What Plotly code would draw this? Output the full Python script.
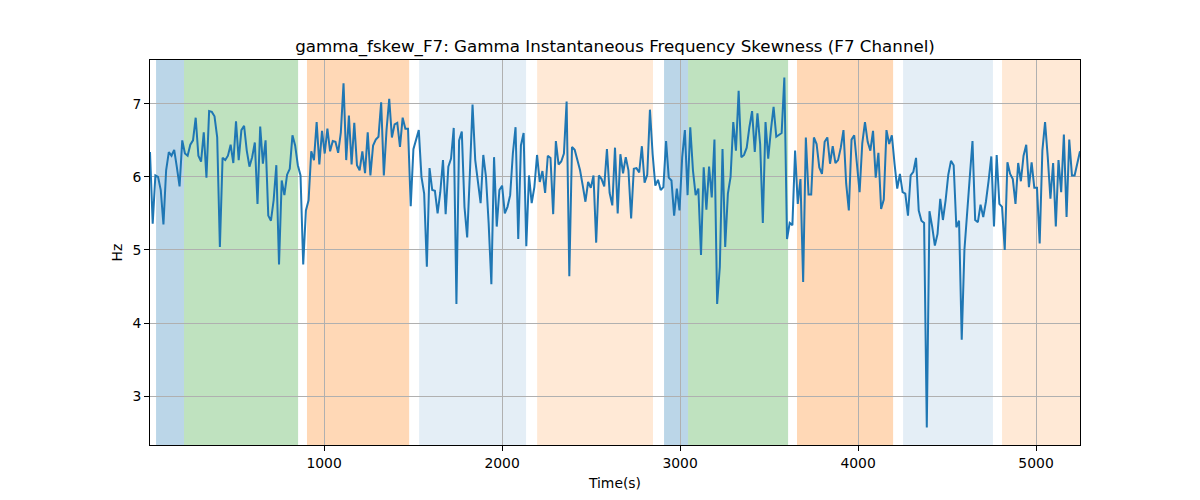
import numpy as np
import plotly.graph_objects as go

values = [
    6.34,5.36,6.02,6.0,5.82,5.35,6.09,6.34,6.29,6.37,6.13,5.87,6.5,6.32,6.29,6.44,6.5,6.81,6.29,6.21,6.61,5.99,6.9,6.89,6.83,6.54,5.04,6.26,6.23,6.29,6.44,6.19,6.76,6.23,6.64,6.70,6.36,6.14,6.27,6.47,5.63,6.69,6.18,6.5,
    5.47,5.4,5.68,6.16,4.80,5.95,5.75,6.03,6.11,6.57,6.43,6.16,6.02,4.80,5.54,5.68,6.35,6.23,6.75,6.17,6.63,6.32,6.66,6.35,6.49,6.48,6.33,6.61,7.28,6.23,6.84,6.17,6.74,6.16,6.09,6.35,6.05,6.61,6.02,6.43,6.51,6.55,7.02,6.02,
    6.64,7.07,6.54,6.72,6.74,6.41,6.81,6.66,6.66,5.60,6.38,6.52,6.64,6.0,5.77,4.77,6.12,5.82,5.81,5.50,5.79,6.23,5.49,6.14,6.25,6.67,4.26,6.50,6.62,5.59,5.17,6.04,6.99,6.23,5.91,5.64,6.30,6.0,5.36,4.53,6.27,5.32,5.82,5.88,
    5.50,5.59,5.75,6.32,6.68,5.15,6.43,6.60,5.05,6.02,5.64,5.86,6.30,5.93,6.08,5.78,6.29,6.26,5.49,6.49,6.17,6.21,6.32,7.03,4.64,6.41,6.37,6.23,6.09,5.88,5.66,5.93,5.85,6.02,5.10,6.02,5.97,5.87,6.38,5.78,5.61,6.40,5.50,
    6.31,6.05,6.27,6.09,5.43,6.11,6.12,6.06,6.42,5.92,6.03,6.92,6.31,5.88,5.96,5.82,5.86,6.49,5.99,5.95,5.47,5.84,5.54,6.27,6.64,5.75,6.68,6.09,5.75,5.84,4.93,6.13,5.55,6.14,5.72,6.51,4.26,4.77,6.38,5.04,5.77,6.0,6.75,6.36,
    7.18,6.27,6.30,6.40,6.68,6.90,6.34,6.87,6.45,5.37,6.75,6.25,6.64,6.96,6.55,6.57,6.60,7.36,5.15,5.37,5.34,6.36,5.63,5.97,4.56,6.54,5.76,5.76,6.54,6.45,6.13,6.04,6.48,6.54,6.18,6.42,6.19,6.23,6.40,6.64,5.91,5.54,
    6.51,6.57,6.18,5.79,6.46,6.75,6.48,6.36,6.63,5.99,6.33,5.56,5.69,6.64,6.45,6.57,6.18,5.84,6.04,5.79,5.77,5.47,6.02,6.07,6.26,5.54,5.40,5.37,2.57,5.53,5.32,5.06,5.22,5.70,5.41,5.68,6.03,6.22,6.16,5.31,5.40,3.77,5.0,
    5.45,6.0,6.49,5.41,5.38,5.62,5.45,5.66,5.95,6.28,5.32,6.30,5.63,5.59,5.0,6.2,6.04,5.97,5.63,6.19,5.94,6.29,6.44,5.86,6.2,5.85,5.85,5.09,6.36,6.75,6.27,5.70,6.19,5.32,6.23,5.79,6.58,5.45,6.51,6.02,6.02,6.18,6.35,
]
t_start = 22
t_end = 5247
times = np.linspace(t_start, t_end, len(values))

region_starts = [56, 213, 904, 1534, 2197, 2910, 3045, 3657, 4253, 4809]
region_ends = [213, 854, 1478, 2135, 2848, 3045, 3607, 4197, 4758, 5300]
region_colors = [
    "rgba(31,119,180,0.3)", "rgba(44,160,44,0.3)", "rgba(255,127,14,0.3)",
    "rgba(31,119,180,0.12)", "rgba(255,127,14,0.17)",
    "rgba(31,119,180,0.3)", "rgba(44,160,44,0.3)", "rgba(255,127,14,0.3)",
    "rgba(31,119,180,0.12)", "rgba(255,127,14,0.17)",
]

x_ticks = [1000, 2000, 3000, 4000, 5000]
y_ticks = [3, 4, 5, 6, 7]

fig = go.Figure()
for s, e, c in zip(region_starts, region_ends, region_colors):
    fig.add_vrect(x0=s, x1=e, fillcolor=c, line_width=0, layer="below")

fig.add_trace(go.Scatter(x=times, y=values, mode="lines",
                         line=dict(color="#1f77b4", width=2), showlegend=False))

axis_common = dict(showline=True, linecolor="black", linewidth=1, mirror=True,
                   ticks="outside", ticklen=5, tickcolor="black",
                   showgrid=True, gridcolor="#b0b0b0", gridwidth=1, zeroline=False,
                   tickfont=dict(family="DejaVu Sans", size=13.9, color="black"))

fig.update_xaxes(range=[t_start, t_end], tickvals=x_ticks,
                 title=dict(text="Time(s)", font=dict(family="DejaVu Sans", size=13.9, color="black"), standoff=8),
                 **axis_common)
fig.update_yaxes(range=[2.33, 7.6], tickvals=y_ticks,
                 title=dict(text="Hz", font=dict(family="DejaVu Sans", size=13.9, color="black"), standoff=6),
                 **axis_common)

fig.update_layout(
    width=1200, height=500,
    margin=dict(l=142, r=128, t=52, b=63),
    paper_bgcolor="white", plot_bgcolor="white",
    title=dict(text="gamma_fskew_F7: Gamma Instantaneous Frequency Skewness (F7 Channel)",
               font=dict(family="DejaVu Sans", size=16.7, color="black"),
               x=607 / 1200, xanchor="center", y=1 - 38 / 500, yanchor="middle", yref="container"),
)

fig.write_html("out.html")
